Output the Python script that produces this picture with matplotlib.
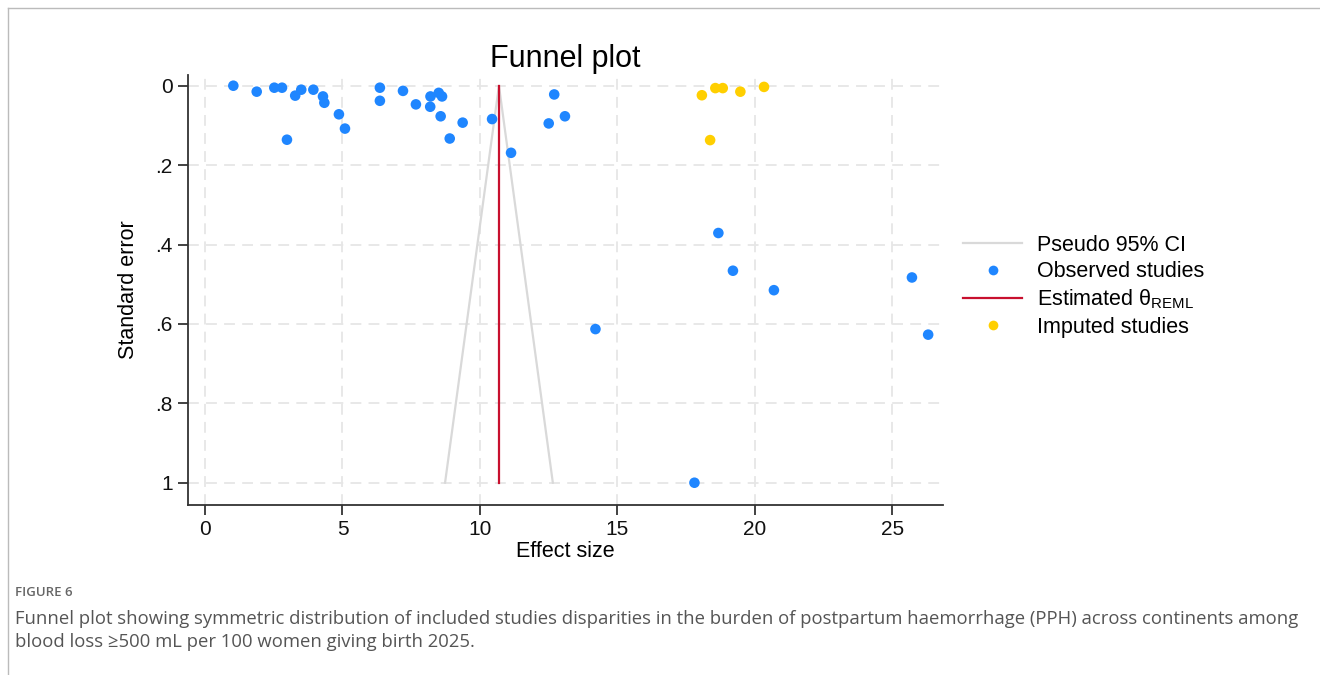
"""Funnel plot (trim-and-fill) for PPH effect sizes, figure 6."""
import matplotlib

matplotlib.use("Agg")
import matplotlib.pyplot as plt
from matplotlib.lines import Line2D

# observed studies: effect size and standard error
observed_es = [1.03, 1.88, 2.52, 2.80, 3.28, 3.50, 3.94, 4.29, 4.34, 2.98,
               4.87, 5.09, 6.36, 6.36, 7.20, 7.67, 8.20, 8.50, 8.62, 8.19,
               8.57, 9.37, 8.90, 10.44, 11.13, 12.50, 12.70, 13.09, 14.20,
               17.80, 18.67, 19.20, 20.69, 25.71, 26.30]
observed_se = [0.000, 0.015, 0.005, 0.005, 0.025, 0.010, 0.010, 0.027, 0.043, 0.136,
               0.072, 0.108, 0.005, 0.038, 0.013, 0.047, 0.027, 0.018, 0.027, 0.053,
               0.077, 0.093, 0.133, 0.084, 0.169, 0.095, 0.022, 0.077, 0.613,
               1.000, 0.371, 0.466, 0.515, 0.483, 0.627]

# imputed studies (trim and fill)
imputed_es = [18.07, 18.56, 18.83, 19.47, 20.33, 18.37]
imputed_se = [0.024, 0.006, 0.006, 0.015, 0.003, 0.137]

theta_reml = 10.69
se_max = 1.0
z95 = 1.96

x_ticks = [0, 5, 10, 15, 20, 25]
y_ticks = [0, 0.2, 0.4, 0.6, 0.8, 1.0]
y_ticklabels = ["0", ".2", ".4", ".6", ".8", "1"]

BLUE = "#1f86ff"
YELLOW = "#ffcf00"
RED = "#c8102e"
CI_GREY = "#d9d9d9"
AXIS = "#333333"
CAPTION = "#555555"

plt.rcParams["font.family"] = ["Liberation Sans", "DejaVu Sans"]
plt.rcParams["mathtext.fontset"] = "custom"
plt.rcParams["mathtext.rm"] = "Liberation Sans"

fig = plt.figure(figsize=(13.2, 6.75), dpi=100)
ax = fig.add_axes([0.1424, 0.2519, 0.572, 0.637])

# pseudo 95% CI funnel around the REML estimate
ax.plot([theta_reml - z95 * se_max, theta_reml, theta_reml + z95 * se_max],
        [se_max, 0, se_max], color=CI_GREY, lw=1.6, zorder=2)
ax.plot([theta_reml, theta_reml], [0, se_max], color=RED, lw=1.6, zorder=3)

ax.scatter(observed_es, observed_se, s=58, color=BLUE, edgecolors="none", zorder=4)
ax.scatter(imputed_es, imputed_se, s=58, color=YELLOW, edgecolors="none", zorder=4)

ax.set_xlim(-0.62, 26.84)
ax.set_ylim(1.056, -0.027)
ax.set_xticks(x_ticks)
ax.set_yticks(y_ticks, y_ticklabels)
ax.grid(True, color="#e6e6e6", ls=(0, (6, 4)), lw=1.3, zorder=0)
ax.set_axisbelow(True)

for side in ["top", "right"]:
    ax.spines[side].set_visible(False)
for side in ["left", "bottom"]:
    ax.spines[side].set_color(AXIS)
    ax.spines[side].set_linewidth(1.3)
ax.tick_params(direction="out", length=7, width=1.3, color=AXIS,
               labelsize=15, labelcolor="#111111", pad=4)

ax.set_xlabel("Effect size", fontsize=15.5, labelpad=1)
ax.set_ylabel("Standard error", fontsize=15.5, labelpad=12)
ax.set_title("Funnel plot", fontsize=22, pad=6)

handles = [
    Line2D([], [], color=CI_GREY, lw=1.6),
    Line2D([], [], ls="none", marker="o", ms=7, color=BLUE, mec="none"),
    Line2D([], [], color=RED, lw=1.6),
    Line2D([], [], ls="none", marker="o", ms=7, color=YELLOW, mec="none"),
]
labels = ["Pseudo 95% CI", "Observed studies",
          "Estimated \u03b8$_{\\mathrm{REML}}$", "Imputed studies"]
fig.legend(handles, labels, loc="center left", bbox_to_anchor=(0.7295, 0.576),
           frameon=False, fontsize=15.5, handlelength=2.75, handletextpad=0.7,
           labelspacing=0.26, borderpad=0, borderaxespad=0)

# caption block and page frame
fig.text(0.0114, 0.117, "FIGURE 6", fontsize=9.5, color="#666666",
         family="Open Sans", fontweight="semibold")
fig.text(0.0114, 0.076,
         "Funnel plot showing symmetric distribution of included studies disparities "
         "in the burden of postpartum haemorrhage (PPH) across continents among",
         fontsize=13.35, color=CAPTION, family="Open Sans")
fig.text(0.0114, 0.042, "blood loss \u2265500 mL per 100 women giving birth 2025.",
         fontsize=13.35, color=CAPTION, family="Open Sans")
fig.add_artist(Line2D([0.006, 1.0], [0.988, 0.988], color="#bbbbbb", lw=1.0))
fig.add_artist(Line2D([0.006, 0.006], [0.988, 0.0], color="#bbbbbb", lw=1.0))

fig.savefig("out.png", dpi=100)
